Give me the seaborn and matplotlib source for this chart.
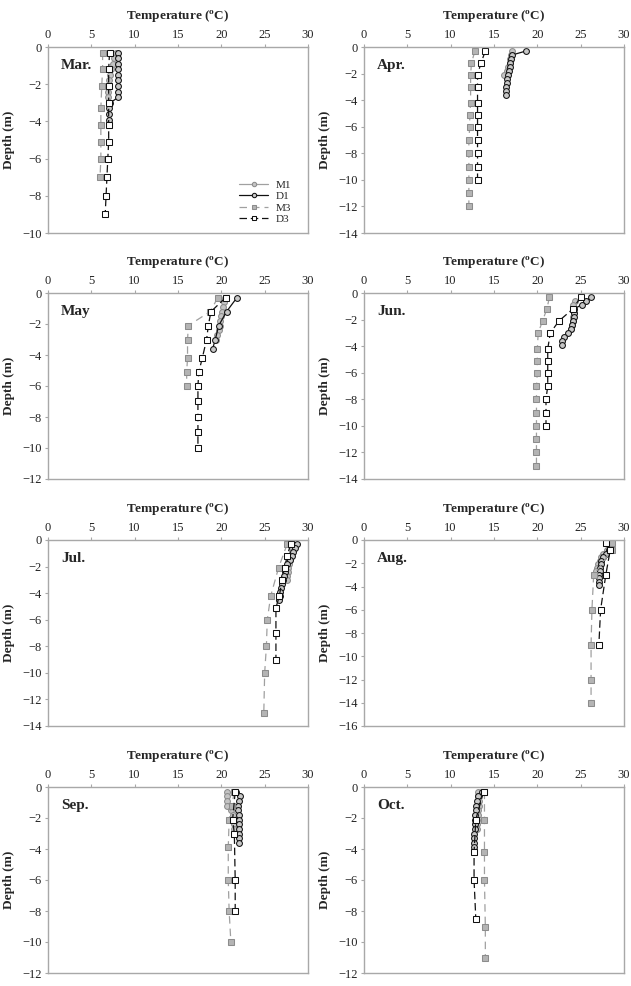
import matplotlib
matplotlib.use("Agg")
import matplotlib.pyplot as plt
import seaborn as sns
import numpy as np

# ---------------- data ----------------
months = ["Mar.", "Apr.", "May", "Jun.", "Jul.", "Aug.", "Sep.", "Oct."]
ymins = [-10, -14, -12, -14, -14, -16, -12, -12]

# M1 (gray circles, solid)
m1_depth = {
    "Mar.": [-0.3, -0.6, -0.9, -1.2, -1.5, -1.8, -2.1, -2.4, -2.7],
    "Apr.": [-0.3, -0.6, -0.9, -1.2, -1.5, -1.8, -2.1],
    "May": [-0.3, -0.6, -0.9, -1.2, -1.5, -1.8, -2.1, -2.4, -2.7, -3.0],
    "Jun.": [-0.6, -0.9, -1.2, -1.5, -1.8, -2.1, -2.4, -2.7],
    "Jul.": [-0.3, -0.6, -0.9, -1.2, -1.5, -1.8, -2.1, -2.4, -2.7, -3.0],
    "Aug.": [-0.3, -0.6, -0.9, -1.2, -1.5, -1.8, -2.1, -2.4, -2.7],
    "Sep.": [-0.3, -0.6, -0.9, -1.2, -1.5, -1.8, -2.1, -2.4, -2.7, -3.0],
    "Oct.": [-0.3, -0.6, -0.9, -1.2, -1.5, -1.8, -2.1, -2.4, -2.7],
}
m1_temp = {
    "Mar.": [7.8, 7.6, 7.5, 7.3, 7.1, 7.0, 6.9, 6.9, 6.9],
    "Apr.": [17.1, 17.0, 16.9, 16.8, 16.6, 16.5, 16.2],
    "May": [20.4, 20.3, 20.2, 20.1, 20.0, 19.9, 19.8, 19.7, 19.5, 19.4],
    "Jun.": [24.3, 24.1, 24.2, 24.2, 24.1, 24.1, 24.0, 23.9],
    "Jul.": [28.3, 28.2, 28.1, 28.0, 27.9, 27.8, 27.7, 27.7, 27.6, 27.6],
    "Aug.": [28.4, 28.3, 28.0, 27.6, 27.4, 27.2, 27.0, 26.9, 26.8],
    "Sep.": [20.7, 20.6, 20.6, 20.7, 21.1, 21.3, 21.4, 21.5, 21.5, 21.6],
    "Oct.": [13.1, 13.2, 13.3, 13.3, 13.2, 13.1, 13.0, 13.0, 13.0],
}

# D1 (black circles, solid)
d1_depth = {
    "Mar.": [-0.3, -0.6, -0.9, -1.2, -1.5, -1.8, -2.1, -2.4, -2.7, -3.0, -3.3, -3.6, -3.9],
    "Apr.": [-0.3, -0.6, -0.9, -1.2, -1.5, -1.8, -2.1, -2.4, -2.7, -3.0, -3.3, -3.6],
    "May": [-0.3, -1.2, -2.1, -3.0, -3.6],
    "Jun.": [-0.3, -0.6, -0.9, -1.2, -1.5, -1.8, -2.1, -2.4, -2.7, -3.0, -3.3, -3.6, -3.9],
    "Jul.": [-0.3, -0.6, -0.9, -1.2, -1.5, -1.8, -2.1, -2.4, -2.7, -3.0, -3.3, -3.6, -3.9, -4.2, -4.5],
    "Aug.": [-0.3, -0.6, -0.9, -1.2, -1.5, -1.8, -2.1, -2.4, -2.7, -3.0, -3.3, -3.6, -3.9],
    "Sep.": [-0.3, -0.6, -0.9, -1.2, -1.5, -1.8, -2.1, -2.4, -2.7, -3.0, -3.3, -3.6],
    "Oct.": [-0.3, -0.6, -0.9, -1.2, -1.5, -1.8, -2.1, -2.4, -2.7, -3.0, -3.3, -3.6, -3.9],
}
d1_temp = {
    "Mar.": [8.1, 8.1, 8.1, 8.1, 8.1, 8.1, 8.1, 8.1, 8.1, 7.2, 7.0, 7.0, 7.0],
    "Apr.": [18.7, 17.1, 17.0, 16.9, 16.8, 16.7, 16.6, 16.5, 16.5, 16.4, 16.4, 16.4],
    "May": [21.8, 20.6, 19.7, 19.3, 19.0],
    "Jun.": [26.2, 25.6, 25.1, 24.2, 24.2, 24.2, 24.1, 24.0, 23.9, 23.5, 23.1, 22.9, 22.9],
    "Jul.": [28.7, 28.5, 28.3, 28.1, 27.9, 27.6, 27.4, 27.3, 27.2, 27.1, 27.0, 26.9, 26.8, 26.8, 26.7],
    "Aug.": [28.1, 28.4, 28.3, 27.9, 27.6, 27.4, 27.3, 27.2, 27.2, 27.1, 27.1, 27.1, 27.1],
    "Sep.": [21.7, 22.2, 22.0, 21.9, 21.9, 22.0, 22.0, 22.0, 22.0, 22.0, 22.0, 22.0],
    "Oct.": [13.6, 13.2, 13.0, 12.9, 12.9, 12.8, 12.8, 12.8, 12.8, 12.7, 12.7, 12.7, 12.7],
}

# M3 (gray squares, dashed)
m3_depth = {
    "Mar.": [-0.3, -1.2, -2.1, -3.3, -4.2, -5.1, -6.0, -7.0],
    "Apr.": [-0.3, -1.2, -2.1, -3.0, -4.2, -5.1, -6.0, -7.0, -8.0, -9.0, -10.0, -11.0, -12.0],
    "May": [-0.3, -1.2, -2.1, -3.0, -4.2, -5.1, -6.0],
    "Jun.": [-0.3, -1.2, -2.1, -3.0, -4.2, -5.1, -6.0, -7.0, -8.0, -9.0, -10.0, -11.0, -12.0, -13.0],
    "Jul.": [-0.3, -2.1, -4.2, -6.0, -8.0, -10.0, -13.0],
    "Aug.": [-0.3, -0.9, -3.0, -6.0, -9.0, -12.0, -14.0],
    "Sep.": [-0.3, -1.2, -2.1, -3.9, -6.0, -8.0, -10.0],
    "Oct.": [-0.3, -2.1, -4.2, -6.0, -9.0, -11.0],
}
m3_temp = {
    "Mar.": [6.3, 6.3, 6.2, 6.1, 6.1, 6.1, 6.1, 6.0],
    "Apr.": [12.8, 12.4, 12.3, 12.3, 12.3, 12.2, 12.2, 12.1, 12.1, 12.1, 12.1, 12.1, 12.1],
    "May": [19.6, 18.7, 16.2, 16.1, 16.1, 16.0, 16.0],
    "Jun.": [21.4, 21.1, 20.6, 20.1, 20.0, 20.0, 20.0, 19.9, 19.9, 19.9, 19.9, 19.9, 19.9, 19.9],
    "Jul.": [27.6, 26.6, 25.7, 25.3, 25.2, 25.0, 24.9],
    "Aug.": [28.6, 28.6, 26.5, 26.3, 26.2, 26.2, 26.2],
    "Sep.": [21.5, 21.2, 20.9, 20.8, 20.8, 20.9, 21.1],
    "Oct.": [13.9, 13.9, 13.9, 13.9, 14.0, 14.0],
}

# D3 (black squares, dashed)
d3_depth = {
    "Mar.": [-0.3, -1.2, -2.1, -3.0, -4.2, -5.1, -6.0, -7.0, -8.0, -9.0],
    "Apr.": [-0.3, -1.2, -2.1, -3.0, -4.2, -5.1, -6.0, -7.0, -8.0, -9.0, -10.0],
    "May": [-0.3, -1.2, -2.1, -3.0, -4.2, -5.1, -6.0, -7.0, -8.0, -9.0, -10.0],
    "Jun.": [-0.3, -1.2, -2.1, -3.0, -4.2, -5.1, -6.0, -7.0, -8.0, -9.0, -10.0],
    "Jul.": [-0.3, -1.2, -2.1, -3.0, -4.2, -5.1, -7.0, -9.0],
    "Aug.": [-0.3, -0.9, -3.0, -6.0, -9.0],
    "Sep.": [-0.3, -2.1, -3.0, -6.0, -8.0],
    "Oct.": [-0.3, -2.1, -4.2, -6.0, -8.5],
}
d3_temp = {
    "Mar.": [7.1, 7.0, 7.0, 7.0, 7.0, 7.0, 6.9, 6.8, 6.7, 6.6],
    "Apr.": [14.0, 13.5, 13.1, 13.1, 13.1, 13.1, 13.1, 13.1, 13.1, 13.1, 13.1],
    "May": [20.5, 18.8, 18.5, 18.3, 17.8, 17.4, 17.3, 17.3, 17.3, 17.3, 17.3],
    "Jun.": [25.0, 24.1, 22.5, 21.5, 21.2, 21.2, 21.2, 21.2, 21.0, 21.0, 21.0],
    "Jul.": [28.0, 27.6, 27.3, 27.0, 26.7, 26.3, 26.3, 26.3],
    "Aug.": [27.9, 28.4, 27.9, 27.3, 27.1],
    "Sep.": [21.6, 21.3, 21.5, 21.6, 21.6],
    "Oct.": [13.8, 12.9, 12.7, 12.7, 12.9],
}

x_ticks = [0, 5, 10, 15, 20, 25, 30]

# ---------------- style ----------------
sns.set_style("ticks")
plt.rcParams["font.family"] = ["Liberation Serif", "DejaVu Serif"]
plt.rcParams["mathtext.fontset"] = "custom"
plt.rcParams["mathtext.rm"] = "Liberation Serif"
plt.rcParams["mathtext.bf"] = "Liberation Serif:bold"

fig = plt.figure(figsize=(6.31, 9.86), dpi=100)

W, H = 631.0, 986.0
col_left = [48, 364]
row_top = [47, 293, 540, 787]
ax_w, ax_h = 260, 186

spine_c = "#a8a8a8"

series = [
    ("M1", m1_depth, m1_temp, dict(color="#a0a0a0", marker="o", markersize=4.2,
                                   markerfacecolor="#c4c4c4", markeredgecolor="#8c8c8c",
                                   linestyle="-", linewidth=0.9)),
    ("D1", d1_depth, d1_temp, dict(color="#111111", marker="o", markersize=4.2,
                                   markerfacecolor="#c8c8c8", markeredgecolor="#111111",
                                   linestyle="-", linewidth=0.9)),
    ("M3", m3_depth, m3_temp, dict(color="#a0a0a0", marker="s", markersize=4.4,
                                   markerfacecolor="#b4b4b4", markeredgecolor="#8c8c8c",
                                   linestyle=(0, (6, 4)), linewidth=0.9)),
    ("D3", d3_depth, d3_temp, dict(color="#111111", marker="s", markersize=4.4,
                                   markerfacecolor="#ffffff", markeredgecolor="#111111",
                                   linestyle=(0, (6, 3)), linewidth=0.9)),
]

for i, mon in enumerate(months):
    r, c = divmod(i, 2)
    left = col_left[c] / W
    bottom = 1 - (row_top[r] + ax_h) / H
    ax = fig.add_axes([left, bottom, ax_w / W, ax_h / H])
    for name, dd, tt, kw in series:
        sns.lineplot(x=tt[mon], y=dd[mon], ax=ax, sort=False, estimator=None,
                     label=name, legend=False, **kw)
    ax.set_xlim(0, 30)
    ax.set_ylim(ymins[i], 0)
    ax.set_xticks(x_ticks)
    ax.set_yticks(np.arange(ymins[i], 1, 2))
    ax.xaxis.tick_top()
    ax.xaxis.set_label_position("top")
    ax.set_xlabel(r"Temperature ($^{\mathbf{o}}$C)", fontsize=9.5, fontweight="bold", labelpad=6)
    ax.set_ylabel("Depth (m)", fontsize=9.5, fontweight="bold", labelpad=5)
    ax.tick_params(axis="both", labelsize=9, length=2.5, width=0.8, color=spine_c,
                   labelcolor="#222222", pad=2)
    for s in ax.spines.values():
        s.set_visible(True)
        s.set_color(spine_c)
        s.set_linewidth(1.0)
    ax.text(0.05, 0.9, mon, transform=ax.transAxes, fontsize=11, fontweight="bold",
            ha="left", va="center")
    if i == 0:
        ax.legend(loc="lower right", bbox_to_anchor=(0.97, 0.0), frameon=False,
                  fontsize=8, handlelength=2.6, labelspacing=0.15, markerscale=0.75,
                  handletextpad=0.7, borderpad=0.3)
    else:
        if ax.get_legend() is not None:
            ax.get_legend().remove()

fig.savefig("out.png", dpi=100, facecolor="white")
